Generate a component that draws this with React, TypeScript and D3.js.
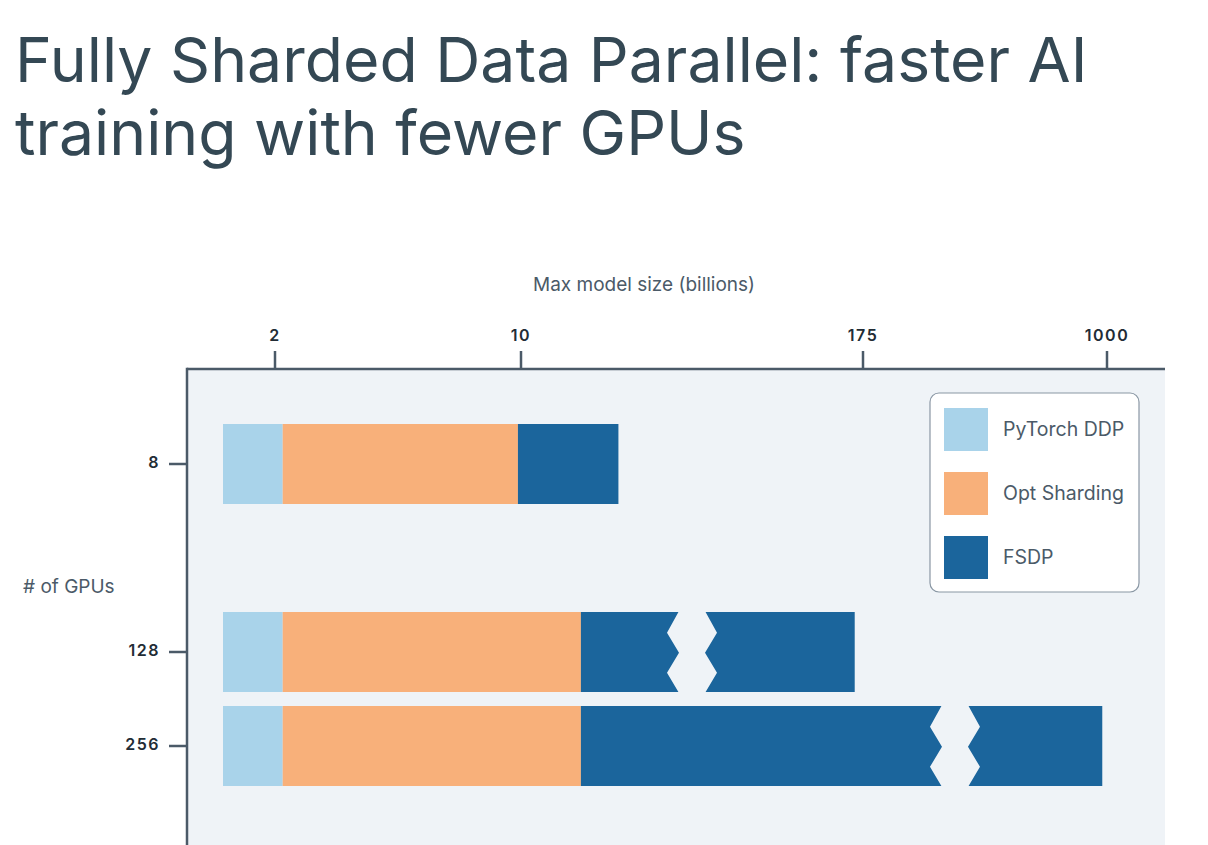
import React, { useEffect, useRef } from "react";
import * as d3 from "d3";

// data
const gpuCounts = ["8", "", "128", "256"]; // empty slot keeps the gap between 8 and 128
const ddpSize = [2.25, null, 2.25, 2.25];
const optSize = [9.9, null, 38.9, 38.9];
const fsdpSize = [57, null, 171, 984];
const breakAt = [null, null, 92.5, 486]; // where the FSDP bar is cut
const sizeTicks = [2, 10, 175, 1000];
const seriesNames = ["PyTorch DDP", "Opt Sharding", "FSDP"];
const seriesColors = ["#a9d3ea", "#f8b07a", "#1b659c"];

const W = 1208;
const H = 845;
const BG = "#eff3f7";
const AXIS = "#4b5a68";
const TEXT = "#344854";
const FONT = "Inter, 'Noto Sans', sans-serif";

export default function App() {
  const ref = useRef<SVGSVGElement | null>(null);

  useEffect(() => {
    const svg = d3.select(ref.current);
    svg.selectAll("*").remove();

    const plot = { left: 187, top: 369, right: 1165, bottom: H };

    // the axis is neither linear nor log, so piecewise linear between the ticks
    const x = d3.scaleLinear()
      .domain([0, ...sizeTicks])
      .range([223, 275, 521, 863, 1107]);

    const y = d3.scaleBand()
      .domain(gpuCounts)
      .range([424, 786])
      .paddingInner(14 / 94)
      .paddingOuter(0);

    // title
    const title = svg.append("text")
      .attr("fill", TEXT)
      .style("font-family", FONT)
      .style("font-size", "62.5px");
    title.append("tspan").attr("x", 15).attr("y", 82).text("Fully Sharded Data Parallel: faster AI");
    title.append("tspan").attr("x", 15).attr("y", 155).text("training with fewer GPUs");

    // plot background
    svg.append("rect")
      .attr("x", plot.left).attr("y", plot.top)
      .attr("width", plot.right - plot.left).attr("height", plot.bottom - plot.top)
      .attr("fill", BG);

    // bars
    const rows = gpuCounts.map((g, i) => ({ g, i })).filter(d => d.g !== "");
    const g = svg.append("g");
    rows.forEach(({ g: key, i }) => {
      const y0 = y(key)!;
      const bh = y.bandwidth();
      const segs = [
        [0, ddpSize[i]!],
        [ddpSize[i]!, optSize[i]!],
        [optSize[i]!, fsdpSize[i]!]
      ];
      segs.forEach(([a, b], k) => {
        g.append("rect")
          .attr("x", x(a)).attr("y", y0)
          .attr("width", x(b) - x(a)).attr("height", bh)
          .attr("fill", seriesColors[k]);
      });
      const br = breakAt[i];
      if (br != null) {
        const cx = x(br);
        const pts: [number, number][] = [
          [cx - 13, y0 - 1], [cx + 13, y0 - 1], [cx + 25, y0 + bh * 0.26],
          [cx + 13, y0 + bh * 0.51], [cx + 25, y0 + bh * 0.76], [cx + 13, y0 + bh + 1],
          [cx - 13, y0 + bh + 1], [cx - 25, y0 + bh * 0.76], [cx - 13, y0 + bh * 0.51],
          [cx - 25, y0 + bh * 0.26]
        ];
        g.append("polygon")
          .attr("points", pts.map(p => p.join(",")).join(" "))
          .attr("fill", BG);
      }
    });

    // top axis
    svg.append("line")
      .attr("x1", plot.left).attr("x2", plot.right)
      .attr("y1", plot.top).attr("y2", plot.top)
      .attr("stroke", AXIS).attr("stroke-width", 2.5);
    sizeTicks.forEach(t => {
      svg.append("line")
        .attr("x1", x(t)).attr("x2", x(t))
        .attr("y1", plot.top - 18).attr("y2", plot.top)
        .attr("stroke", AXIS).attr("stroke-width", 2.5);
      svg.append("text")
        .attr("x", x(t)).attr("y", plot.top - 32)
        .attr("text-anchor", "middle").attr("dominant-baseline", "middle")
        .attr("fill", "#222c35")
        .style("font-family", FONT).style("font-size", "16px")
        .style("font-weight", 600).style("letter-spacing", "1.5px")
        .text(String(t));
    });
    svg.append("text")
      .attr("x", 644).attr("y", 286)
      .attr("text-anchor", "middle").attr("dominant-baseline", "middle")
      .attr("fill", AXIS)
      .style("font-family", FONT).style("font-size", "19px")
      .text("Max model size (billions)");

    // left axis
    svg.append("line")
      .attr("x1", plot.left).attr("x2", plot.left)
      .attr("y1", plot.top - 1.25).attr("y2", plot.bottom)
      .attr("stroke", AXIS).attr("stroke-width", 2.5);
    rows.forEach(({ g: key }) => {
      const cy = y(key)! + y.bandwidth() / 2;
      svg.append("line")
        .attr("x1", plot.left - 18).attr("x2", plot.left)
        .attr("y1", cy).attr("y2", cy)
        .attr("stroke", AXIS).attr("stroke-width", 2.5);
      svg.append("text")
        .attr("x", plot.left - 27).attr("y", cy)
        .attr("text-anchor", "end").attr("dominant-baseline", "middle")
        .attr("fill", "#222c35")
        .style("font-family", FONT).style("font-size", "16px")
        .style("font-weight", 600).style("letter-spacing", "1.5px")
        .text(key);
    });
    svg.append("text")
      .attr("x", 23).attr("y", 588)
      .attr("dominant-baseline", "middle")
      .attr("fill", AXIS)
      .style("font-family", FONT).style("font-size", "19px")
      .text("# of GPUs");

    // legend
    const lg = svg.append("g").attr("transform", "translate(930,393)");
    lg.append("rect")
      .attr("width", 209).attr("height", 199)
      .attr("rx", 9)
      .attr("fill", "#ffffff").attr("stroke", "#8a97a4").attr("stroke-width", 1.2);
    seriesNames.forEach((name, k) => {
      const row = lg.append("g").attr("transform", `translate(14,${15 + k * 64})`);
      row.append("rect").attr("width", 44).attr("height", 43).attr("fill", seriesColors[k]);
      row.append("text")
        .attr("x", 59).attr("y", 23)
        .attr("dominant-baseline", "middle")
        .attr("fill", AXIS)
        .style("font-family", FONT).style("font-size", "19.5px")
        .text(name);
    });
  }, []);

  return (
    <div style={{ position: "absolute", left: 0, top: 0 }}>
      <svg ref={ref} width={W} height={H} style={{ display: "block" }} />
    </div>
  );
}
